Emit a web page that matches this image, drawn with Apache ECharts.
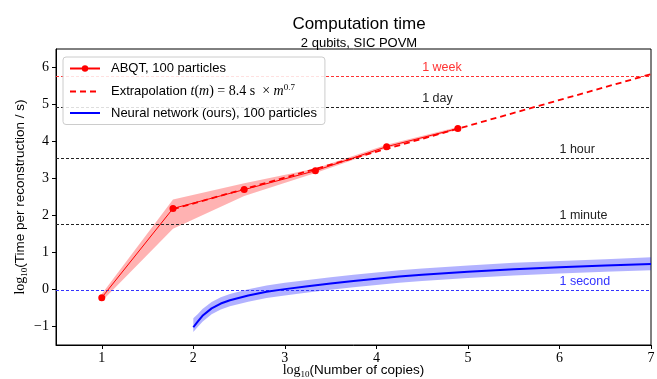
<!DOCTYPE html>
<html>
<head>
<meta charset="utf-8">
<script src="https://cdn.jsdelivr.net/npm/echarts@6/dist/echarts.min.js"></script>
<style>
  html, body { margin: 0; padding: 0; background: #fff; }
  #chart { width: 657px; height: 379px; }
</style>
</head>
<body>
<div id="chart"></div>
<script>
// log10(number of copies) for the ABQT runs
const abqtX = [1, 1.778, 2.556, 3.334, 4.112, 4.89];
const abqtY = [-0.22, 2.19, 2.70, 3.21, 3.86, 4.35];
const abqtLo = [-0.32, 1.64, 2.53, 3.15, 3.82, 4.32];
const abqtHi = [-0.12, 2.43, 2.87, 3.27, 3.91, 4.39];

// extrapolation t(m) = 8.4 s * m^0.7, end points
const extrapX = [1.778, 7];
const extrapY = [2.17, 5.82];

// neural network curve and its shaded band
const nnX = [2.0, 2.05, 2.1, 2.2, 2.3, 2.4, 2.6, 2.8, 3.0, 3.25, 3.5, 3.75, 4.0, 4.25, 4.5, 4.75, 5.0, 5.5, 6.0, 6.5, 7.0];
const nnY = [-1.02, -0.86, -0.71, -0.51, -0.38, -0.29, -0.16, -0.06, 0.01, 0.09, 0.16, 0.23, 0.29, 0.35, 0.40, 0.44, 0.48, 0.55, 0.60, 0.65, 0.69];
const nnLo = [-1.15, -1.01, -0.87, -0.67, -0.54, -0.45, -0.33, -0.23, -0.16, -0.08, -0.01, 0.06, 0.12, 0.18, 0.23, 0.27, 0.31, 0.38, 0.43, 0.48, 0.52];
const nnHi = [-0.78, -0.66, -0.53, -0.34, -0.21, -0.12, 0.01, 0.11, 0.18, 0.26, 0.33, 0.40, 0.46, 0.52, 0.57, 0.61, 0.65, 0.72, 0.77, 0.82, 0.87];

// reference durations, log10 seconds
const refNames = ['1 second', '1 minute', '1 hour', '1 day', '1 week'];
const refVals = [0, 1.778, 3.556, 4.936, 5.782];
const refLabelX = [6, 6, 6, 4.5, 4.5];
const refColors = ['#3333ff', '#222222', '#222222', '#222222', '#ff3333'];

const xTicks = [1, 2, 3, 4, 5, 6, 7];
const yTicks = [-1, 0, 1, 2, 3, 4, 5, 6];
const xMin = 0.5, xMax = 7, yMin = -1.5, yMax = 6.5;

const SANS = 'Liberation Sans';
const SERIF = 'Liberation Serif';

function zip(xs, ys) { return xs.map((x, i) => [x, ys[i]]); }

function bandSeries(xs, lo, hi, fill) {
  return {
    type: 'custom',
    silent: true,
    z: 1,
    data: xs.map((x, i) => [x, lo[i], hi[i]]),
    encode: { x: 0, y: [1, 2] },
    renderItem: function (params, api) {
      if (params.dataIndex !== 0) return null;
      const pts = [];
      for (let i = 0; i < xs.length; i++) pts.push(api.coord([xs[i], hi[i]]));
      for (let i = xs.length - 1; i >= 0; i--) pts.push(api.coord([xs[i], lo[i]]));
      return { type: 'polygon', shape: { points: pts }, style: { fill: fill } };
    }
  };
}

// dashed reference lines across the plot, with their text
const refSeries = {
  type: 'custom',
  silent: true,
  z: 2,
  data: refVals.map((v, i) => [refLabelX[i], v]),
  encode: { x: 0, y: 1 },
  renderItem: function (params, api) {
    const i = params.dataIndex;
    const a = api.coord([xMin, refVals[i]]);
    const b = api.coord([xMax, refVals[i]]);
    const t = api.coord([refLabelX[i], refVals[i]]);
    const y = Math.round(a[1]) + 0.5;
    return {
      type: 'group',
      children: [
        {
          type: 'line',
          shape: { x1: a[0], y1: y, x2: b[0], y2: y },
          style: { stroke: refColors[i], lineWidth: 1, lineDash: [3, 2] }
        },
        {
          type: 'text',
          x: t[0], y: y - 2,
          style: {
            text: refNames[i], fill: refColors[i],
            fontFamily: SANS, fontSize: 12.5,
            align: 'left', verticalAlign: 'bottom'
          }
        }
      ]
    };
  }
};

const richName = {
  l: { fontFamily: SERIF, fontSize: 14, color: '#000' },
  s: { fontFamily: SERIF, fontSize: 9, color: '#000', verticalAlign: 'bottom', padding: [8, 0, 0, 0] },
  n: { fontFamily: SANS, fontSize: 13.5, color: '#000' }
};

const chart = echarts.init(document.getElementById('chart'));

const series = [
  bandSeries(abqtX, abqtLo, abqtHi, 'rgba(255,0,0,0.3)'),
  bandSeries(nnX, nnLo, nnHi, 'rgba(0,0,255,0.3)'),
  refSeries,
  {
    name: 'ABQT, 100 particles', type: 'line', z: 4,
    data: zip(abqtX, abqtY),
    symbol: 'circle', symbolSize: 7, showSymbol: true,
    lineStyle: { color: '#ff0000', width: 1 },
    itemStyle: { color: '#ff0000' }
  },
  {
    name: 'Extrapolation', type: 'line', z: 4,
    data: zip(extrapX, extrapY),
    symbol: 'none',
    lineStyle: { color: '#ff0000', width: 1.8, type: [6, 4] },
    itemStyle: { color: '#ff0000' }
  },
  {
    name: 'Neural network (ours), 100 particles', type: 'line', z: 4,
    data: zip(nnX, nnY),
    symbol: 'none',
    lineStyle: { color: '#0000ff', width: 2 },
    itemStyle: { color: '#0000ff' }
  }
];

chart.setOption({
  animation: false,
  backgroundColor: '#fff',
  title: {
    text: 'Computation time',
    subtext: '2 qubits, SIC POVM',
    left: 354, top: 11, textAlign: 'center', itemGap: 4,
    textStyle: { fontFamily: SANS, fontSize: 17, fontWeight: 'normal', color: '#000' },
    subtextStyle: { fontFamily: SANS, fontSize: 13, color: '#000' }
  },
  grid: {
    left: 56, right: 6, top: 49, bottom: 34,
    outerBoundsMode: 'none',
    show: true, borderColor: '#000', borderWidth: 1, backgroundColor: 'transparent'
  },
  legend: {
    orient: 'vertical', left: 63, top: 57, z: 10,
    data: [
      { name: 'ABQT, 100 particles' },
      { name: 'Extrapolation', itemStyle: { opacity: 0 } },
      { name: 'Neural network (ours), 100 particles', itemStyle: { opacity: 0 } }
    ],
    itemWidth: 30, itemHeight: 8, itemGap: 8,
    padding: [5, 8, 5, 6],
    backgroundColor: 'rgba(255,255,255,0.85)', borderColor: '#cccccc', borderWidth: 1, borderRadius: 3,
    formatter: function (name) {
      if (name === 'Extrapolation') {
        return '{n|Extrapolation }{it|t}{rm|(}{it|m}{rm|) = 8.4 s  × }{it|m}{sup|0.7}';
      }
      return '{n|' + name + '}';
    },
    textStyle: {
      padding: [0, 0, 0, 6],
      rich: {
        n: { fontFamily: SANS, fontSize: 13, color: '#000' },
        it: { fontFamily: SERIF, fontStyle: 'italic', fontSize: 14, color: '#000' },
        rm: { fontFamily: SERIF, fontSize: 14, color: '#000' },
        sup: { fontFamily: SERIF, fontSize: 9, color: '#000', verticalAlign: 'top', padding: [0, 0, 8, 0] }
      }
    }
  },
  xAxis: {
    type: 'value', min: xMin, max: xMax,
    name: '{l|log}{s|10}{n|(Number of copies)}',
    nameLocation: 'middle', nameGap: 17, nameMoveOverlap: false,
    nameTextStyle: { rich: richName },
    axisLine: { show: true, onZero: false, lineStyle: { color: '#000', width: 1 } },
    axisTick: { show: true, inside: false, length: 4, lineStyle: { color: '#000' }, customValues: xTicks },
    axisLabel: { customValues: xTicks, fontFamily: SERIF, fontSize: 14, color: '#000', margin: 6 },
    splitLine: { show: false }
  },
  yAxis: {
    type: 'value', min: yMin, max: yMax,
    name: '{l|log}{s|10}{n|(Time per reconstruction / s)}',
    nameLocation: 'middle', nameGap: 27, nameRotate: 90, nameMoveOverlap: false,
    nameTextStyle: { rich: richName },
    axisLine: { show: true, onZero: false, lineStyle: { color: '#000', width: 1 } },
    axisTick: { show: true, inside: false, length: 4, lineStyle: { color: '#000' }, customValues: yTicks },
    axisLabel: {
      customValues: yTicks, fontFamily: SERIF, fontSize: 14, color: '#000', margin: 7,
      formatter: function (v) { return String(v).replace('-', '\u2212'); }
    },
    splitLine: { show: false }
  },
  series: series
});
</script>
</body>
</html>
